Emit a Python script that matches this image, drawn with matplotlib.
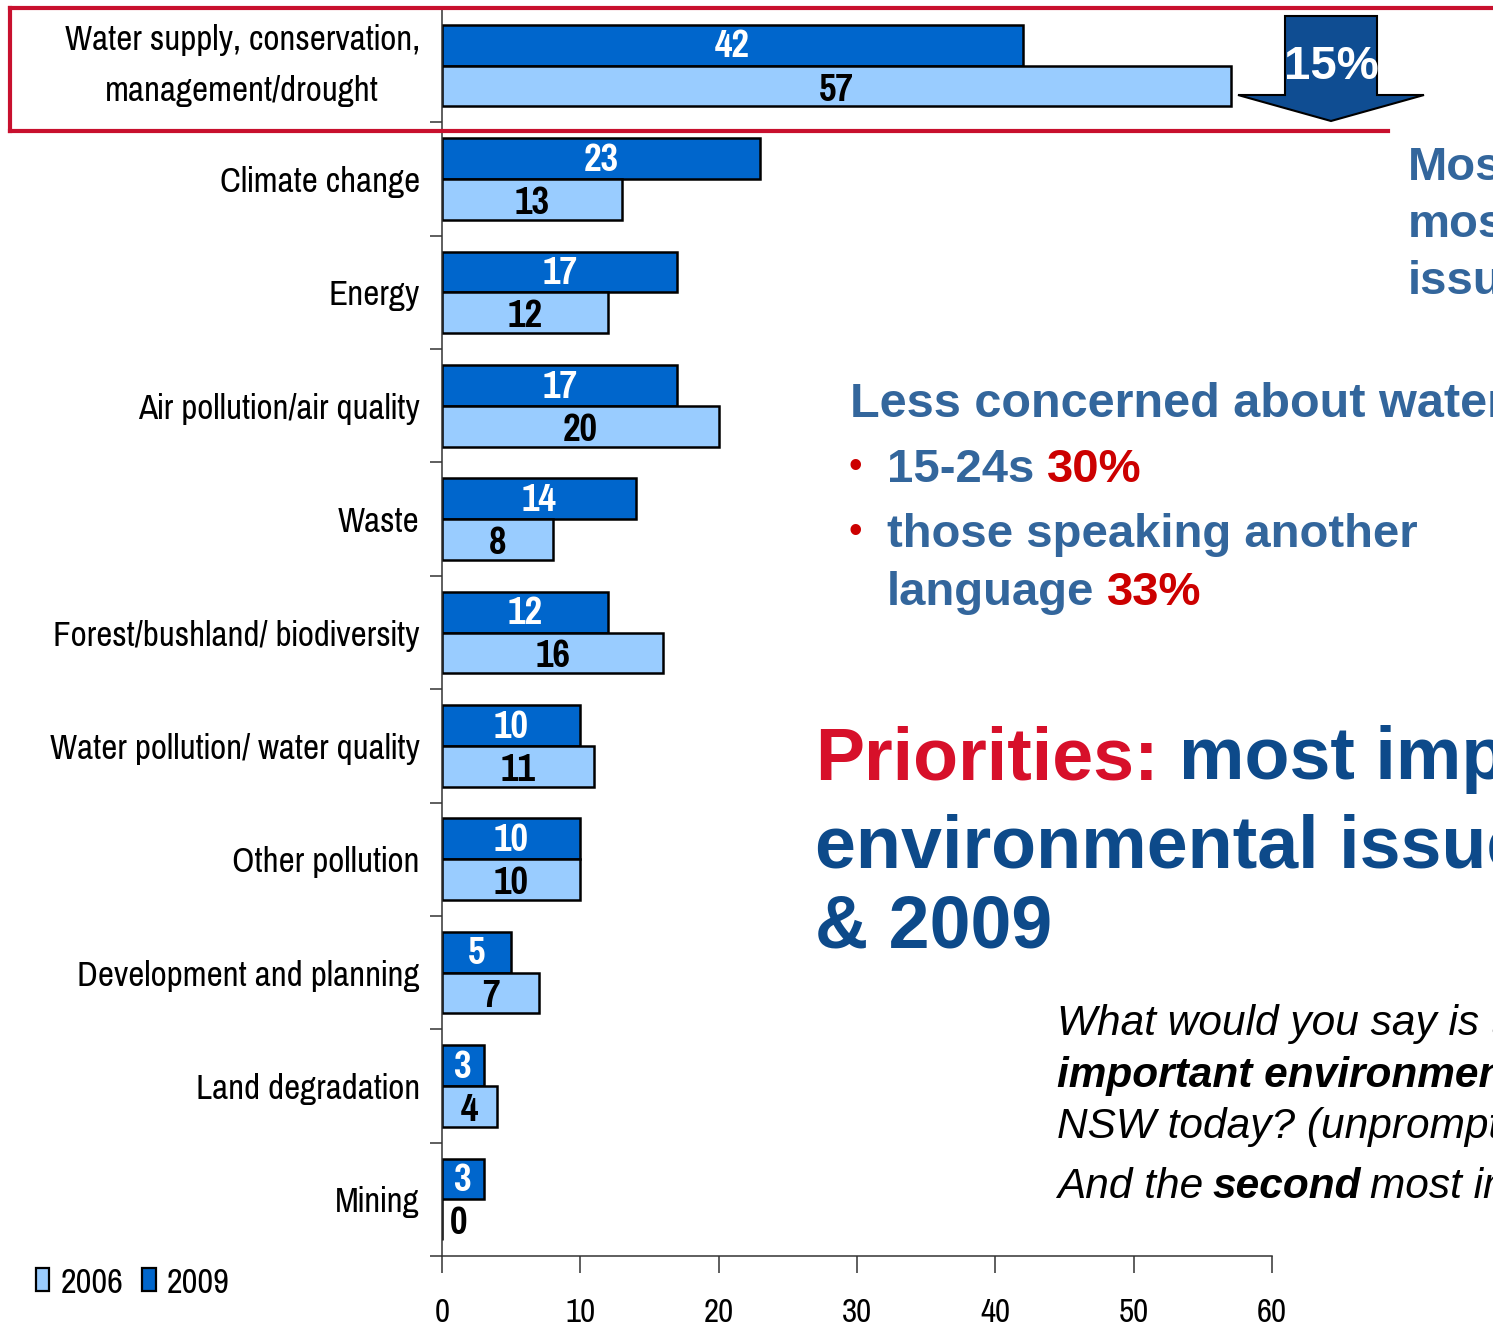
import matplotlib.pyplot as plt
from matplotlib import font_manager
from matplotlib.patches import Patch, Polygon
from matplotlib.lines import Line2D

categories = [
    "Water supply, conservation,\nmanagement/drought",
    "Climate change",
    "Energy",
    "Air pollution/air quality",
    "Waste",
    "Forest/bushland/ biodiversity",
    "Water pollution/ water quality",
    "Other pollution",
    "Development and planning",
    "Land degradation",
    "Mining",
]
values_2009 = [42, 23, 17, 17, 14, 12, 10, 10, 5, 3, 3]
values_2006 = [57, 13, 12, 20, 8, 16, 11, 10, 7, 4, 0]
x_ticks = [0, 10, 20, 30, 40, 50, 60]

DARK = "#0066CC"
LIGHT = "#99CCFF"
RED_LINE = "#C8102E"
STEEL = "#33669C"
NAVY = "#0D4A8A"
AXIS = "#333333"

installed = {f.name for f in font_manager.fontManager.ttflist}
narrow_choices = ["Liberation Sans Narrow", "Arial Narrow", "Pragati Narrow",
                  "PT Sans Narrow", "Roboto Condensed", "Fira Sans Condensed"]
NARROW = next((n for n in narrow_choices if n in installed), "DejaVu Sans")
SANS = "Liberation Sans"

W, H = 1493, 1325
fig = plt.figure(figsize=(W / 100, H / 100), dpi=100)
fig.patch.set_facecolor("white")

# bar chart, positioned in pixel units
ax = fig.add_axes([442 / W, (H - 1256) / H, (1272 - 442) / W, (1256 - 9) / H])
pos = list(range(len(categories)))
bh = 0.36
ax.barh([p - 0.18 for p in pos], values_2009, height=bh, color=DARK,
        edgecolor="black", linewidth=1.8, label="2009")
ax.barh([p + 0.18 for p in pos], values_2006, height=bh, color=LIGHT,
        edgecolor="black", linewidth=1.8, label="2006")

for p, v in zip(pos, values_2009):
    ax.text(max(v / 2, 1.2), p - 0.165, str(v), ha="center", va="center",
            color="white", fontsize=30, fontweight="bold", family=NARROW)
for p, v in zip(pos, values_2006):
    ax.text(max(v / 2, 1.2), p + 0.215, str(v), ha="center", va="center",
            color="black", fontsize=30, fontweight="bold", family=NARROW)

ax.set_xlim(0, 60)
ax.set_ylim(len(categories) - 0.5, -0.5)
ax.set_xticks(x_ticks)
ax.set_xticklabels([str(t) for t in x_ticks], family=NARROW, fontsize=26)
ax.set_yticks(pos)
ax.set_yticklabels(categories, family=NARROW, fontsize=27.5)
first = ax.get_yticklabels()[0]
first.set_multialignment("center")
first.set_linespacing(1.75)
first.set_verticalalignment("center")
ax.set_yticks([p - 0.5 for p in pos] + [len(categories) - 0.5], minor=True)
ax.tick_params(axis="y", which="major", length=0, pad=16)
ax.tick_params(axis="y", which="minor", length=9, width=1.1, color=AXIS,
               direction="out")
ax.tick_params(axis="x", length=12, width=1.1, color=AXIS, direction="out",
               pad=18)
for side in ("top", "right"):
    ax.spines[side].set_visible(False)
for side in ("left", "bottom"):
    ax.spines[side].set_linewidth(1.1)
    ax.spines[side].set_color(AXIS)

handles = [Patch(facecolor=LIGHT, edgecolor="black", linewidth=1.6, label="2006"),
           Patch(facecolor=DARK, edgecolor="black", linewidth=1.6, label="2009")]
fig.legend(handles=handles, loc="center left", bbox_to_anchor=(2 / W, (H - 1283) / H),
           ncol=2, frameon=False, prop={"family": NARROW, "size": 27},
           handlelength=0.36, handleheight=0.55, handletextpad=0.3, columnspacing=0.5)

# overlay in pixel coordinates for the slide annotations
ov = fig.add_axes([0, 0, 1, 1], zorder=5)
ov.set_xlim(0, W)
ov.set_ylim(H, 0)
ov.axis("off")
ov.patch.set_alpha(0)

ov.add_line(Line2D([10, W], [8, 8], color=RED_LINE, lw=3))
ov.add_line(Line2D([10, 10], [8, 131], color=RED_LINE, lw=3))
ov.add_line(Line2D([10, 1388], [131, 131], color=RED_LINE, lw=3))

arrow = Polygon([(1285, 16), (1377, 16), (1377, 95), (1424, 95), (1331, 121),
                 (1238, 95), (1285, 95)], closed=True, facecolor="#0F4D92",
                edgecolor="black", linewidth=1.5)
ov.add_patch(arrow)
ov.text(1331, 79, "15%", ha="center", va="baseline", color="white",
        fontsize=34, fontweight="bold", family=SANS)

for y, s in zip([180, 237, 294], ["Most", "most", "issue"]):
    ov.text(1408, y, s, color=STEEL, fontsize=34, fontweight="bold",
            family=SANS, va="baseline")


def pair(x, y, first, second, c1, c2, size, gap, weight="bold"):
    t = ov.text(x, y, first, color=c1, fontsize=size, fontweight=weight,
                family=SANS, va="baseline")
    ov.annotate(second, xy=(1, 0), xycoords=t, xytext=(gap, 0),
                textcoords="offset pixels", va="bottom", ha="left",
                color=c2, fontsize=size, fontweight=weight, family=SANS)


ov.text(850, 417, "Less concerned about water", color=STEEL, fontsize=35,
        fontweight="bold", family=SANS, va="baseline")
for y in (482, 547):
    ov.text(849, y - 4, "\u2022", color="#CC0000", fontsize=28, family=SANS,
            va="baseline")
pair(887, 482, "15-24s", "30%", STEEL, "#CC0000", 34, 13)
ov.text(887, 547, "those speaking another", color=STEEL, fontsize=34,
        fontweight="bold", family=SANS, va="baseline")
pair(887, 605, "language", "33%", STEEL, "#CC0000", 34, 13)

pair(815, 779, "Priorities:", "most important", "#D7102A", NAVY, 53, 20)
ov.text(815, 868, "environmental issues 2006", color=NAVY, fontsize=53,
        fontweight="bold", family=SANS, va="baseline")
ov.text(815, 947, "& 2009", color=NAVY, fontsize=53, fontweight="bold",
        family=SANS, va="baseline")

ov.text(1057, 1035, "What would you say is the most", fontsize=30.5,
        style="italic", family=SANS, va="baseline")
ov.text(1057, 1087, "important environmental issue in", fontsize=30.5,
        style="italic", fontweight="bold", family=SANS, va="baseline")
ov.text(1057, 1138, "NSW today? (unprompted)", fontsize=30.5,
        style="italic", family=SANS, va="baseline")
t1 = ov.text(1057, 1198, "And the", fontsize=30.5, style="italic",
             family=SANS, va="baseline")
t2 = ov.annotate("second", xy=(1, 0), xycoords=t1, xytext=(9, 0),
                 textcoords="offset pixels", va="bottom", ha="left",
                 fontsize=30.5, style="italic", fontweight="bold", family=SANS)
ov.annotate("most important?", xy=(1, 0), xycoords=t2, xytext=(9, 0),
            textcoords="offset pixels", va="bottom", ha="left",
            fontsize=30.5, style="italic", family=SANS)

fig.savefig("out.png", dpi=100)
